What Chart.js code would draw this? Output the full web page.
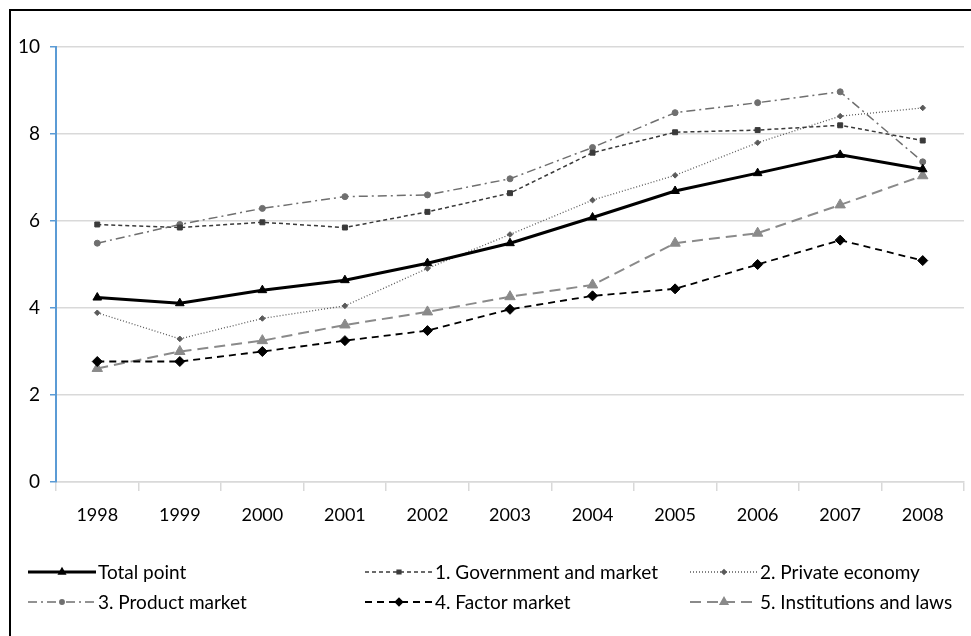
<!DOCTYPE html>
<html>
<head>
<meta charset="utf-8">
<script src="https://cdn.jsdelivr.net/npm/chart.js@4"></script>
<style>
  html, body { margin: 0; padding: 0; background: #fff; }
  #wrap { width: 971px; height: 636px; position: relative; }
</style>
</head>
<body>
<div id="wrap"><canvas id="myChart" width="971" height="636"></canvas></div>
<script>
const years = ["1998", "1999", "2000", "2001", "2002", "2003", "2004", "2005", "2006", "2007", "2008"];
const yTicks = [0, 2, 4, 6, 8, 10];
const totalPoint = [4.24, 4.11, 4.41, 4.64, 5.03, 5.49, 6.08, 6.69, 7.10, 7.52, 7.19];
const govMarket = [5.92, 5.85, 5.97, 5.85, 6.21, 6.64, 7.57, 8.04, 8.09, 8.20, 7.85];
const privateEconomy = [3.89, 3.29, 3.76, 4.05, 4.91, 5.69, 6.48, 7.05, 7.80, 8.41, 8.60];
const productMarket = [5.49, 5.92, 6.29, 6.56, 6.60, 6.97, 7.69, 8.49, 8.72, 8.97, 7.36];
const factorMarket = [2.77, 2.77, 3.00, 3.25, 3.48, 3.97, 4.28, 4.44, 5.00, 5.56, 5.09];
const institutions = [2.61, 3.00, 3.25, 3.61, 3.91, 4.26, 4.53, 5.49, 5.72, 6.37, 7.04];

const fontName = "Lato, 'Open Sans', sans-serif";

// legend slots: [sample x, y]
const legendPos = [[28, 572], [365, 572], [690, 572], [28, 602], [365, 602], [690, 602]];

const frameAndLegend = {
  id: "frameAndLegend",
  afterDraw(chart) {
    const ctx = chart.ctx;
    ctx.save();
    ctx.strokeStyle = "#000";
    ctx.lineWidth = 2;
    ctx.strokeRect(10, 10, 980, 650);
    chart.data.datasets.forEach((ds, i) => {
      const [x, y] = legendPos[i];
      const len = 68;
      ctx.save();
      ctx.strokeStyle = ds.borderColor;
      ctx.lineWidth = ds.borderWidth;
      ctx.setLineDash(ds.borderDash || []);
      ctx.beginPath();
      ctx.moveTo(x, y);
      ctx.lineTo(x + len, y);
      ctx.stroke();
      ctx.restore();
      ctx.save();
      ctx.fillStyle = ds.pointBackgroundColor;
      ctx.strokeStyle = ds.pointBorderColor;
      Chart.helpers.drawPoint(ctx, {
        pointStyle: ds.pointStyle,
        radius: ds.pointRadius * 0.65,
        borderWidth: 1
      }, x + len / 2, y);
      ctx.restore();
      ctx.fillStyle = "#000";
      ctx.font = "19px " + fontName;
      ctx.textBaseline = "middle";
      ctx.fillText(ds.label, x + len + 2, y + 1);
    });
    ctx.restore();
  }
};

const contexto = document.getElementById("myChart").getContext("2d");

function ds(label, data, color, width, dash, style, radius, pcolor) {
  return {
    label: label,
    data: data,
    borderColor: color,
    borderWidth: width,
    borderDash: dash,
    pointStyle: style,
    pointRadius: radius,
    pointBackgroundColor: pcolor,
    pointBorderColor: pcolor,
    pointBorderWidth: 1,
    tension: 0,
    fill: false
  };
}

const myChart = new Chart(contexto, {
  type: "line",
  data: {
    labels: years,
    datasets: [
      ds("Total point", totalPoint, "#000000", 3, [], "triangle", 5, "#000000"),
      ds("1. Government and market", govMarket, "#3a3a3a", 1.5, [4, 3], "rect", 3.5, "#3a3a3a"),
      ds("2. Private economy", privateEconomy, "#5a5a5a", 1.3, [1, 2], "rectRot", 2.8, "#5a5a5a"),
      ds("3. Product market", productMarket, "#6f6f6f", 1.5, [9, 4, 2, 4], "circle", 3, "#6f6f6f"),
      ds("4. Factor market", factorMarket, "#000000", 1.8, [7, 5], "rectRot", 5, "#000000"),
      ds("5. Institutions and laws", institutions, "#8a8a8a", 2, [11, 6], "triangle", 6, "#8a8a8a")
    ]
  },
  options: {
    responsive: false,
    animation: false,
    layout: { padding: { left: 10, top: 47, right: 3, bottom: 104 } },
    plugins: {
      legend: { display: false },
      tooltip: { enabled: false }
    },
    scales: {
      x: {
        offset: true,
        afterFit(scale) { scale.height = 50; },
        grid: {
          offset: true,
          drawOnChartArea: false,
          color: "#d9d9d9",
          lineWidth: 1.5,
          tickLength: 9
        },
        border: { color: "#d9d9d9", width: 1.5 },
        ticks: { color: "#000", font: { family: fontName, size: 18 }, padding: 13, maxRotation: 0 }
      },
      y: {
        min: 0,
        max: 10,
        afterFit(scale) { scale.width = 46; },
        afterBuildTicks(scale) { scale.ticks = yTicks.map(v => ({ value: v })); },
        grid: {
          color: "#d9d9d9",
          lineWidth: 1.5,
          tickColor: "#5b9bd5",
          tickLength: 6
        },
        border: { color: "#5b9bd5", width: 2 },
        ticks: { color: "#000", font: { family: fontName, size: 19 }, padding: 10 }
      }
    }
  },
  plugins: [frameAndLegend]
});
</script>
</body>
</html>
